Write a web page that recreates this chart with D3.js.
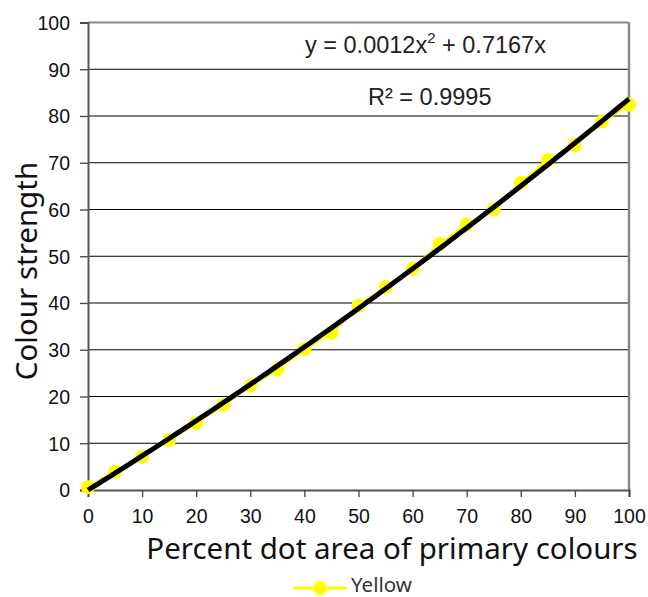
<!DOCTYPE html>
<html><head><meta charset="utf-8">
<script src="https://cdn.jsdelivr.net/npm/d3@7"></script>
<style>body{margin:0;background:#fff}svg{display:block}</style>
</head><body>
<script>
const xValues = [0,5,10,15,20,25,30,35,40,45,50,55,60,65,70,75,80,85,90,95,100];
const yellowValues = [0.6,3.9,7.1,10.7,14.3,18.2,22.3,25.8,30.1,33.6,39.4,43.4,47.3,52.6,56.8,60.0,65.7,70.6,73.8,78.8,82.4];
const trendCoef = {a:0.0012, b:0.7167};
const xTicks = [0,10,20,30,40,50,60,70,80,90,100];
const yTicks = [0,10,20,30,40,50,60,70,80,90,100];
const seriesName = "Yellow";
const xTitle = "Percent dot area of primary colours";
const yTitle = "Colour strength";

const W=648,H=597;
const svg=d3.select("body").append("svg").attr("width",W).attr("height",H);
const L=88,R=629,T=22.5,B=490;
const x=d3.scaleLinear().domain([0,100]).range([L,R]);
const y=d3.scaleLinear().domain([0,100]).range([B,T]);

// gridlines
svg.append("g").selectAll("line").data(yTicks.filter(d=>d>0&&d<100)).join("line")
 .attr("x1",L).attr("x2",R).attr("y1",d=>y(d)).attr("y2",d=>y(d))
 .attr("stroke","#000").attr("stroke-width",1.2);
// plot border top/right
svg.append("line").attr("x1",L).attr("x2",R).attr("y1",y(100)).attr("y2",y(100)).attr("stroke","#888").attr("stroke-width",2);
svg.append("line").attr("x1",R).attr("x2",R).attr("y1",T).attr("y2",B).attr("stroke","#888").attr("stroke-width",2.5);

// axes
const yAxis=d3.axisLeft(y).tickValues(yTicks).tickSize(8).tickPadding(10);
const gy=svg.append("g").attr("transform",`translate(${L},0)`).call(yAxis);
const xAxis=d3.axisBottom(x).tickValues(xTicks).tickSize(7).tickPadding(12);
const gx=svg.append("g").attr("transform",`translate(0,${B})`).call(xAxis);
[gx,gy].forEach(g=>{
  g.select(".domain").attr("stroke","#555").attr("stroke-width",2);
  g.selectAll(".tick line").attr("stroke","#444").attr("stroke-width",1.3);
  g.selectAll("text").attr("font-family","Liberation Sans, Arial, sans-serif").attr("font-size",19.5).attr("fill","#111");
});
gy.selectAll("text").attr("dy","0.35em");

// series line
const line=d3.line().x((d,i)=>x(xValues[i])).y(d=>y(d));
svg.append("path").datum(yellowValues).attr("d",line).attr("fill","none").attr("stroke","#FFFF00").attr("stroke-width",3);
// markers
svg.append("g").selectAll("circle").data(yellowValues).join("circle")
 .attr("cx",(d,i)=>x(xValues[i])).attr("cy",d=>y(d)).attr("r",7).attr("fill","#FFFF00");
// trendline
const tx=d3.range(0,100.5,1);
svg.append("path").datum(tx).attr("d",d3.line().x(d=>x(d)).y(d=>y(trendCoef.a*d*d+trendCoef.b*d)))
 .attr("fill","none").attr("stroke","#000").attr("stroke-width",5);

// equation
const eq=svg.append("text").attr("x",305).attr("y",53).attr("font-family","Liberation Sans, Arial, sans-serif").attr("font-size",23.5).attr("fill","#222");
eq.append("tspan").text("y = 0.0012x");
eq.append("tspan").attr("dy",-10).attr("font-size",15).text("2");
eq.append("tspan").attr("dy",10).text(" + 0.7167x");
svg.append("text").attr("x",368).attr("y",105).attr("font-family","Liberation Sans, Arial, sans-serif").attr("font-size",23.5).attr("fill","#222").text("R² = 0.9995");

// axis titles
svg.append("text").attr("x",392).attr("y",559).attr("text-anchor","middle").attr("font-family","Noto Sans, sans-serif").attr("font-size",29.5).attr("fill","#111").text(xTitle);
svg.append("text").attr("transform","translate(37,271) rotate(-90)").attr("text-anchor","middle").attr("font-family","Noto Sans, sans-serif").attr("font-size",29.5).attr("fill","#111").text(yTitle);

// legend
svg.append("line").attr("x1",293).attr("x2",347).attr("y1",588).attr("y2",588).attr("stroke","#FFFF00").attr("stroke-width",3);
svg.append("circle").attr("cx",320).attr("cy",588).attr("r",7).attr("fill","#FFFF00");
svg.append("text").attr("x",351).attr("y",592).attr("font-family","Noto Sans, sans-serif").attr("font-size",20.5).attr("fill","#333").text(seriesName);
</script>
</body></html>
